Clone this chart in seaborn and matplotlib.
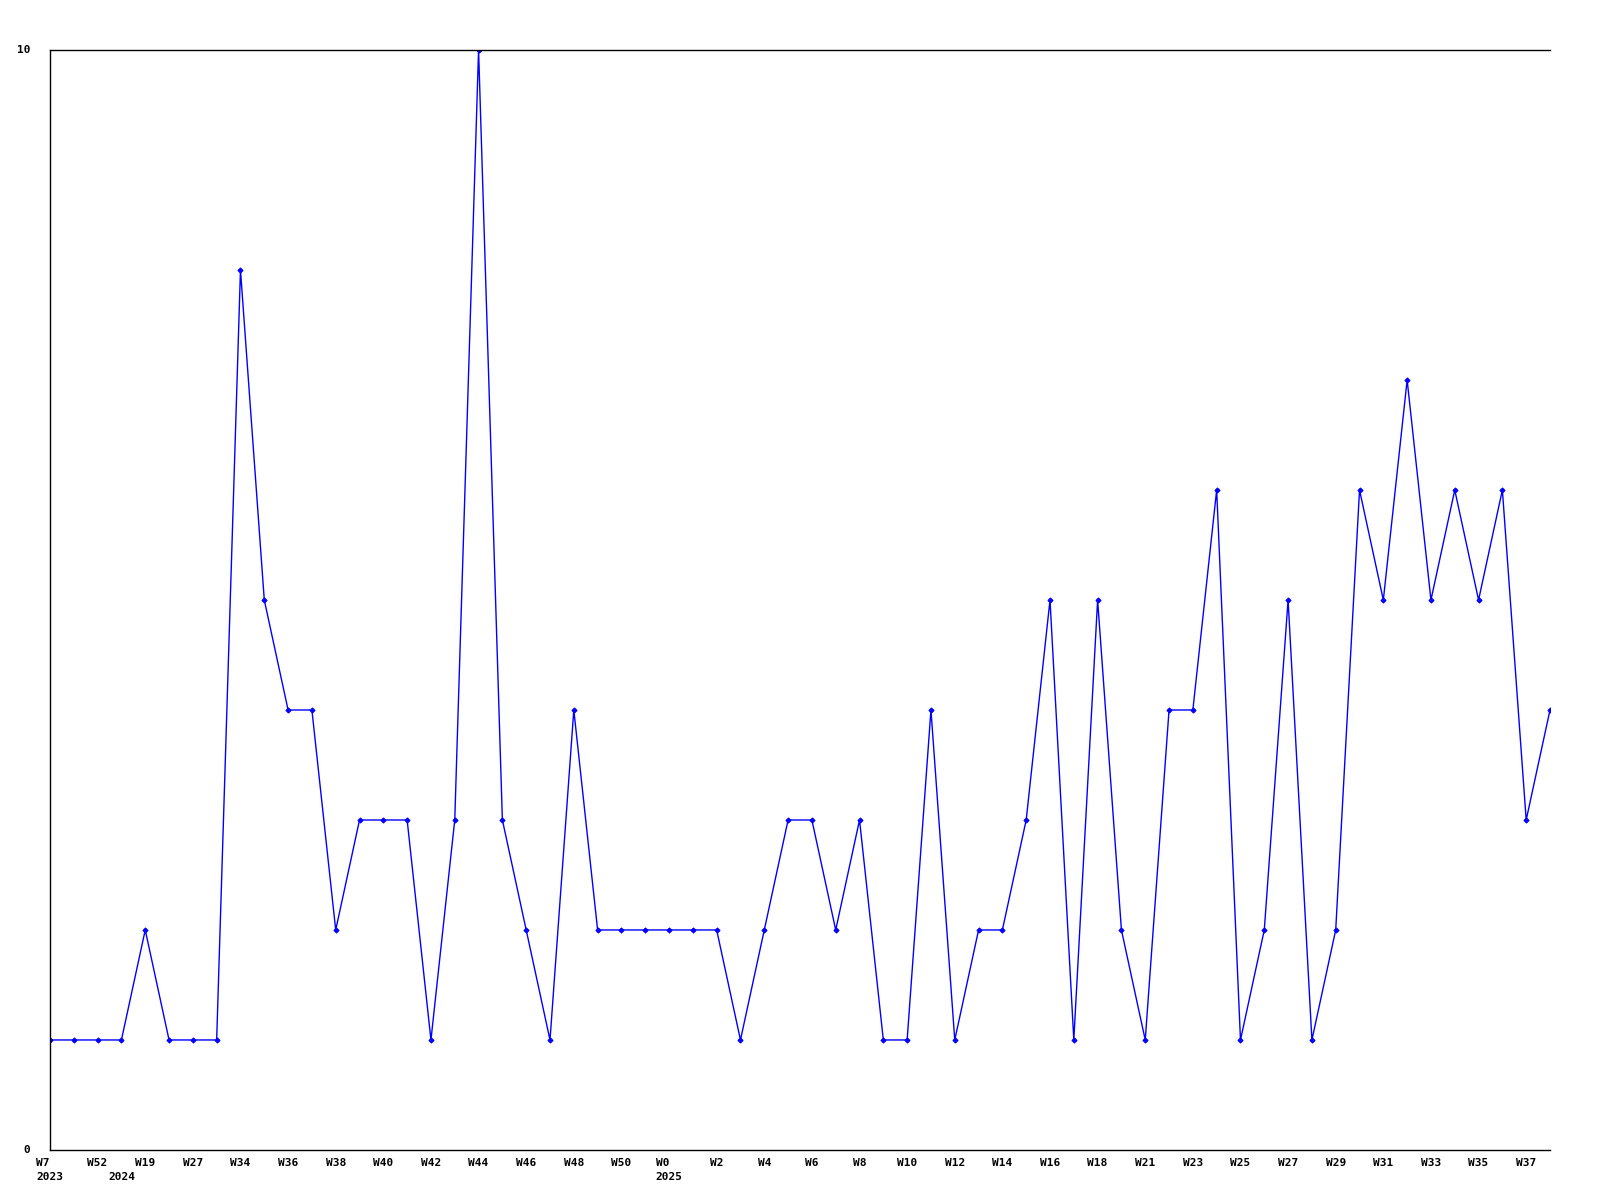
import numpy as np
import pandas as pd
import matplotlib
matplotlib.use('Agg')
import matplotlib.pyplot as plt
import seaborn as sns

# weekly counts, one per point
values = [1, 1, 1, 1, 2, 1, 1, 1, 8, 5, 4, 4, 2, 3, 3, 3,
          1, 3, 10, 3, 2, 1, 4, 2, 2, 2, 2, 2, 2, 1, 2, 3,
          3, 2, 3, 1, 1, 4, 1, 2, 2, 3, 5, 1, 5, 2, 1, 4,
          4, 6, 1, 2, 5, 1, 2, 6, 5, 7, 5, 6, 5, 6, 3, 4]

# labels shown on every second point
week_labels = ['W7', 'W52', 'W19', 'W27', 'W34', 'W36', 'W38', 'W40',
               'W42', 'W44', 'W46', 'W48', 'W50', 'W0', 'W2', 'W4',
               'W6', 'W8', 'W10', 'W12', 'W14', 'W16', 'W18', 'W21',
               'W23', 'W25', 'W27', 'W29', 'W31', 'W33', 'W35', 'W37']
year_labels = {0: '2023', 3: '2024', 26: '2025'}

df = pd.DataFrame({'idx': np.arange(len(values)), 'count': values})

sns.set_theme(style='white')
plt.rcParams['font.family'] = ['DejaVu Sans Mono']

fig = plt.figure(figsize=(16, 12), dpi=100)
ax = fig.add_axes([0.03125, 0.0417, 0.9375, 0.9166])

sns.lineplot(data=df, x='idx', y='count', ax=ax, color='#0000ff',
             linewidth=1.0, marker='D', markersize=2.6,
             markeredgecolor='#0000ff', markerfacecolor='#0000ff')

ax.set_xlim(0, len(values) - 1)
ax.set_ylim(0, 10)

# week ticks (plus year on a second line where it starts)
major_pos = list(range(0, len(values) - 1, 2))
major_lab = []
for p, w in zip(major_pos, week_labels):
    if p in year_labels:
        major_lab.append(w + '\n' + year_labels[p])
    else:
        major_lab.append(w)
ax.set_xticks(major_pos)
ax.set_xticklabels(major_lab, fontsize=8, fontweight='bold', linespacing=1.5,
                   multialignment='left')

minor_pos = [p for p in year_labels if p not in major_pos]
ax.set_xticks(minor_pos, minor=True)
ax.set_xticklabels(['\n' + year_labels[p] for p in minor_pos], minor=True,
                   fontsize=8, fontweight='bold', linespacing=1.5)

ax.set_yticks([0, 10])
ax.set_yticklabels(['0', '10'], fontsize=8, fontweight='bold')

ax.tick_params(axis='x', which='both', length=0, pad=6, colors='black')
ax.tick_params(axis='y', length=0, pad=14, colors='black')
for lab in ax.get_yticklabels():
    lab.set_verticalalignment('center')

ax.set_xlabel('')
ax.set_ylabel('')
ax.grid(False)
for side in ['left', 'top', 'bottom']:
    ax.spines[side].set_color('black')
    ax.spines[side].set_linewidth(1.0)
ax.spines['right'].set_visible(False)

fig.savefig('out.png', dpi=100, facecolor='white')
plt.close()
